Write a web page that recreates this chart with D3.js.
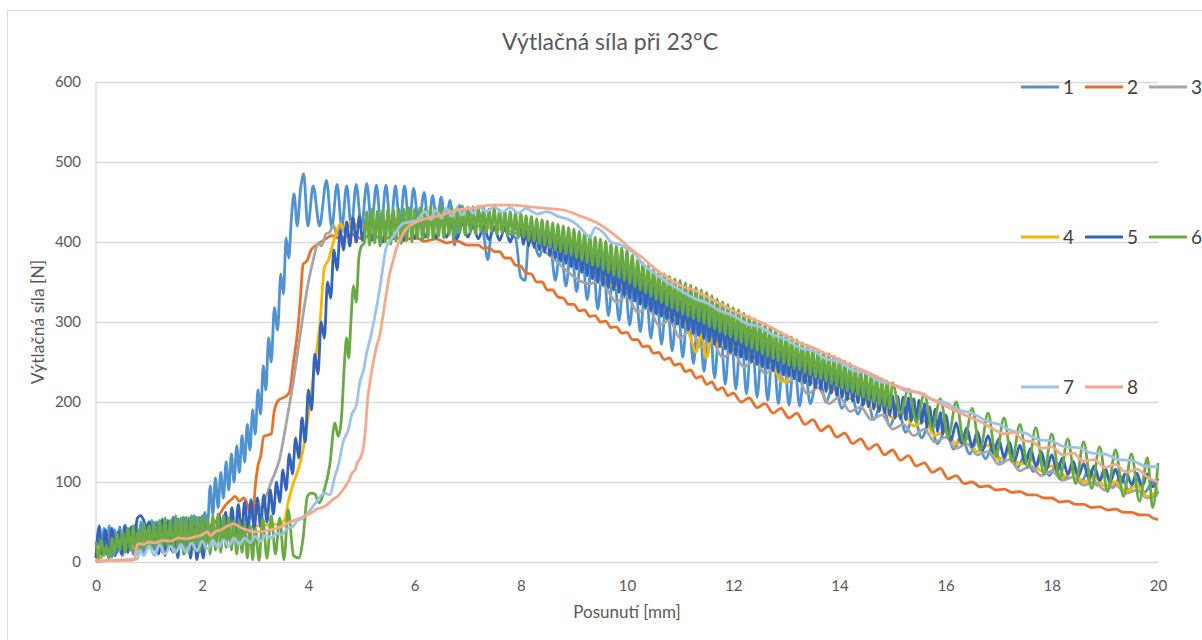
<!DOCTYPE html>
<html>
<head>
<meta charset="utf-8">
<script src="https://cdn.jsdelivr.net/npm/d3@7"></script>
<style>
body { margin: 0; background: #fff; }
svg { display: block; font-family: Lato, "Open Sans", sans-serif; }
</style>
</head>
<body>
<svg id="chart"></svg>
<script>
///////////////////// DATA /////////////////////////
let x_ticks = [0, 2, 4, 6, 8, 10, 12, 14, 16, 18, 20];
let y_ticks = [0, 100, 200, 300, 400, 500, 600];
let series_names = ["1", "2", "3", "4", "5", "6", "7", "8"];
let series_colors = ["#4f93d3", "#e8722c", "#a5a5a5", "#f5b800", "#3363bb", "#6aaa42", "#9dc3e8", "#f5a98a"];

// [posunuti mm, sila N]
let s1 = [[0,8],[0.05,38],[0.1,5],[0.15,42],[0.2,10],[0.25,45],[0.3,6],[0.35,40],[0.4,12],[0.45,44],[0.5,8],[0.55,46],[0.6,14],[0.65,42],[0.7,10],[0.75,48],[0.8,16],[0.85,50],[0.9,12],[0.95,46],[1.0,18],[1.05,52],[1.1,15],[1.15,50],[1.2,20],[1.25,54],[1.3,18],[1.35,52],[1.4,22],[1.45,56],[1.5,20],[1.55,54],[1.6,24],[1.65,56],[1.7,22],[1.75,55],[1.8,26],[1.85,58],[1.9,28],[1.95,56],[2.0,30],[2.05,62],
 [2.1,45],[2.15,95],[2.2,60],[2.25,105],[2.3,68],[2.35,112],[2.4,80],[2.45,125],[2.5,90],[2.55,135],[2.6,100],[2.65,145],[2.7,112],[2.75,158],[2.8,125],[2.85,172],[2.9,140],[2.95,190],[3.0,160],[3.05,215],[3.1,185],[3.15,245],[3.2,215],[3.25,280],[3.3,250],[3.36,318],[3.42,290],[3.48,360],[3.53,335],[3.58,405],[3.63,380],[3.68,430],[3.73,460],[3.79,420],[3.85,465],[3.91,485],
 [3.99,420],[4.09,470],[4.21,420],[4.34,477],[4.44,418],[4.54,472],[4.63,418],[4.72,470],[4.81,418],[4.9,472],[5.0,418],[5.1,473],[5.19,420],[5.28,471],[5.37,418],[5.46,471],[5.55,418],[5.64,470],[5.72,418],[5.81,470],[5.9,420],[5.98,467],[6.08,420],[6.18,462],[6.26,420],[6.34,458],[6.42,420],[6.5,456],[6.58,422],[6.67,452],[6.75,396],[6.85,446],[6.94,422],[7.03,442],[7.12,425],[7.22,436],
 [7.3,410],[7.38,378],[7.45,412],[7.6,418],[7.75,412],[7.9,405],[8.0,356],[8.08,352],[8.15,402],[8.25,398],[8.35,382],[8.45,400],
 [8.55,398],[8.65,352],[8.75,397],[8.85,345],[8.95,395],[9.05,338],[9.15,392],[9.25,328],[9.35,386],[9.45,316],[9.55,380],[9.65,308],[9.75,372],[9.85,302],[9.95,364],[10.05,296],[10.15,356],[10.25,288],[10.35,350],[10.45,280],[10.55,344],[10.65,272],[10.75,338],[10.85,264],[10.95,332],[11.05,256],[11.15,326],[11.25,248],[11.35,320],[11.45,238],[11.55,314],[11.65,230],[11.75,308],[11.85,222],[11.95,302],[12.05,216],[12.15,296],[12.25,210],[12.35,290],[12.45,206],[12.55,284],[12.65,202],[12.75,276],[12.85,198],[12.95,266],[13.05,196],[13.15,256],[13.25,195],[13.35,244],[13.45,198],
 [13.6,236],[13.75,200],[13.9,226],[14.05,192],[14.2,218],[14.35,185],[14.5,210],[14.65,178],[14.8,202],[14.95,170],[15.1,192],[15.25,162],[15.4,182],[15.55,155],[15.7,175],[15.85,148],[16.0,166],[16.15,141],[16.3,158],[16.45,135],[16.6,152],[16.75,129],[16.9,146],[17.05,123],[17.2,140],[17.35,118],[17.5,134],[17.65,113],[17.8,129],[17.95,108],[18.1,124],[18.25,104],[18.4,119],[18.55,100],[18.7,115],[18.85,96],[19.0,111],[19.15,93],[19.3,107],[19.45,90],[19.6,104],[19.75,87],[19.9,100],[20,85]];

let s2 = [[0,2],[0.1,8],[0.18,28],[0.25,32],[0.35,28],[0.45,33],[0.55,26],[0.65,30],[0.75,36],[0.9,34],[1.05,38],[1.2,36],[1.35,40],[1.5,38],[1.65,42],[1.8,40],[1.95,45],[2.1,44],[2.25,50],[2.35,62],[2.45,72],[2.55,78],[2.62,82],[2.7,76],[2.78,80],[2.85,72],[2.92,55],[2.96,60],[3.0,95],[3.05,120],[3.1,132],[3.16,157],[3.3,160],[3.36,190],[3.45,203],[3.55,206],[3.64,212],[3.72,250],[3.8,290],[3.85,330],[3.9,372],[3.98,377],[4.05,390],[4.15,396],[4.28,402],[4.45,408],[4.6,404],[4.8,410],[5.0,404],[5.2,409],[5.4,403],[5.6,407],[5.8,402],[6.0,406],[6.2,401],[6.4,404],[6.6,399],[6.8,401],[7.0,396],
 [7.2,396],[7.3,392],[7.4,393],[7.5,388],[7.6,388],[7.7,380],[7.8,380],[7.9,371],[8.0,370],[8.1,361],[8.2,360],[8.3,350],[8.4,350],[8.5,340],[8.6,340],[8.7,331],[8.8,330],[8.9,322],[9.0,322],[9.1,314],[9.2,315],[9.3,307],[9.4,308],[9.5,300],[9.6,301],[9.7,293],[9.8,294],[9.9,286],[10.0,287],[10.1,278],[10.2,278],[10.3,269],[10.4,270],[10.5,261],[10.6,262],[10.7,253],[10.8,255],[10.9,246],[11.0,248],[11.1,238],[11.2,240],[11.3,230],[11.4,232],[11.5,222],[11.6,225],[11.7,215],[11.8,218],[11.9,208],[12.0,211],[12.15,200],[12.3,205],[12.45,193],[12.6,198],[12.75,186],[12.9,192],[13.05,180],[13.2,186],[13.35,172],[13.5,178],[13.65,164],[13.8,170],[13.95,156],[14.1,161],[14.25,148],[14.4,154],[14.55,141],[14.7,147],[14.85,134],[15.0,140],[15.15,127],[15.3,133],[15.45,120],[15.6,124],[15.75,112],[15.9,117],[16.05,104],[16.2,108],[16.35,98],[16.5,100],[16.65,94],[16.8,95],[16.95,90],[17.1,91],[17.25,87],[17.4,88],[17.55,84],[17.7,84],[17.85,80],[18.0,80],[18.15,75],[18.3,76],[18.45,72],[18.6,72],[18.75,68],[18.9,69],[19.05,65],[19.2,66],[19.35,62],[19.5,62],[19.65,59],[19.8,59],[19.9,55],[20,53]];

let s3 = [[0,0],[0.15,12],[0.3,18],[0.5,22],[0.7,20],[0.9,26],[1.1,25],[1.3,30],[1.5,28],[1.7,33],[1.9,32],[2.1,38],[2.3,40],[2.5,46],[2.7,50],[2.9,55],[3.05,62],[3.18,78],[3.3,100],[3.45,127],[3.6,180],[3.75,240],[3.88,300],[4.0,350],[4.1,380],[4.18,398],[4.25,395],[4.33,410],[4.4,412],[4.47,421],[4.53,410],[4.6,420],[4.68,412],[4.8,422],[5.0,418],[5.3,425],[5.6,420],[6.0,428],[6.4,422],[6.8,426],[7.2,420],[7.6,416],[8.0,408],[8.3,395],[8.6,380],[8.9,362],[9.1,352],[9.3,348],[9.45,350],
 [9.6,343],[9.8,325],[10.0,332],[10.2,312],[10.4,318],[10.6,296],[10.8,302],[11.0,280],[11.2,290],[11.4,268],[11.6,276],[11.8,256],[12.0,262],[12.2,244],[12.4,252],[12.6,236],[12.8,242],[13.0,224],[13.2,232],[13.4,210],[13.6,218],[13.8,198],[14.0,206],[14.2,188],[14.4,194],[14.6,178],[14.8,184],[15.0,166],[15.2,172],[15.4,158],[15.6,166],[15.8,150],[16.0,156],[16.2,142],[16.4,148],[16.6,134],[16.8,138],[17.0,122],[17.2,128],[17.4,114],[17.6,120],[17.8,108],[18.0,114],[18.2,102],[18.4,106],[18.6,96],[18.8,100],[19.0,90],[19.2,96],[19.4,86],[19.6,90],[19.8,80],[20,84]];

let s4 = [[0,0],[0.2,15],[0.45,22],[0.7,18],[0.85,28],[1.1,26],[1.4,30],[1.7,28],[2.0,34],[2.3,36],[2.6,40],[2.9,44],[3.2,46],[3.45,48],[3.55,52],[3.62,75],[3.7,95],[3.78,110],[3.86,128],[3.95,160],[4.05,210],[4.15,262],[4.22,300],[4.3,368],[4.38,378],[4.45,395],[4.52,410],[4.6,423],[4.7,415],[4.8,425],[5.0,418],[5.2,428],[5.4,420],[5.6,430],[5.8,422],[6.0,430],[6.3,424],[6.6,430],[6.9,422],[7.2,426],[7.5,418],[7.8,420],[8.1,410],[8.4,404],[8.7,390],[9.0,385],[9.3,372],[9.55,362],[9.65,350],[9.75,344],[9.85,343],[9.95,348],[10.05,356],[10.15,345],[10.3,340],[10.5,325],[10.7,318],[10.9,305],[11.1,298],[11.2,280],[11.3,262],[11.4,284],[11.5,255],[11.6,280],[11.75,270],[11.9,282],[12.05,266],[12.2,276],[12.35,258],[12.5,266],[12.65,250],[12.8,240],[12.9,226],[13.0,226],[13.1,242],[13.25,236],[13.4,230],[13.55,222],[13.7,228],[13.85,214],[14.0,222],[14.2,204],[14.4,210],[14.6,192],[14.8,198],[15.0,180],[15.2,186],[15.4,170],[15.6,176],[15.8,158],[16.0,164],[16.2,148],[16.4,155],[16.6,138],[16.8,146],[17.0,128],[17.2,137],[17.4,122],[17.6,128],[17.8,114],[18.0,120],[18.2,106],[18.4,113],[18.6,100],[18.8,106],[19.0,95],[19.2,100],[19.4,88],[19.6,96],[19.8,82],[20,90]];

let s5 = [[0,5],[0.06,45],[0.12,10],[0.18,40],[0.24,5],[0.3,42],[0.36,8],[0.42,38],[0.48,10],[0.54,45],[0.6,12],[0.66,44],[0.72,30],[0.78,55],[0.84,58],[0.9,52],[0.95,42],[1.0,50],[1.06,20],[1.12,48],[1.18,10],[1.24,52],[1.3,8],[1.36,50],[1.42,15],[1.48,55],[1.54,5],[1.6,50],[1.66,10],[1.72,52],[1.78,5],[1.84,45],[1.9,3],[1.96,40],[2.02,5],[2.08,48],[2.14,20],[2.2,52],[2.26,25],[2.32,58],[2.38,28],[2.44,62],[2.5,30],[2.56,68],[2.62,32],[2.68,72],[2.74,35],[2.8,75],[2.86,38],[2.92,78],[2.98,40],[3.04,80],[3.1,44],[3.16,84],[3.22,50],[3.28,90],[3.34,60],[3.4,100],[3.46,75],[3.52,115],[3.58,90],[3.64,135],[3.7,110],[3.76,155],[3.82,130],[3.88,180],[3.94,150],[4.0,215],[4.06,190],[4.12,260],[4.18,235],[4.24,300],[4.3,280],[4.36,350],[4.42,330],[4.48,390],[4.54,365],[4.6,415],[4.66,390],[4.72,425],[4.78,395],[4.84,430],[4.9,400],[4.96,432],[5.02,402],
 [5.1,430],[5.2,402],[5.3,428],[5.4,400],[5.5,430],[5.6,404],[5.7,428],[5.8,402],[5.9,426],[6.0,404],[6.1,428],[6.2,406],[6.3,425],[6.4,405],[6.5,424],[6.6,406],[6.7,422],[6.8,404],[6.9,424],[7.0,406],[7.1,420],[7.2,404],[7.3,420],[7.4,403],[7.5,419],[7.6,402],[7.7,418],[7.8,400],[7.9,418],
 [8.0,416],[8.05,397],[8.1,415],[8.15,395],[8.2,414],[8.25,393],[8.3,413],[8.35,390],[8.4,412],[8.45,387],[8.5,410],[8.55,383],[8.6,408],[8.65,380],[8.7,406],[8.75,376],[8.8,404],[8.85,373],[8.9,402],[8.95,369],[9.0,400],[9.05,366],[9.1,397],[9.15,362],[9.2,394],[9.25,358],[9.3,392],[9.35,354],[9.4,389],[9.45,350],[9.5,386],[9.55,346],[9.6,382],[9.65,343],[9.7,379],[9.75,340],[9.8,375],[9.85,337],[9.9,372],[9.95,333],[10.0,368],[10.05,330],[10.1,363],[10.15,326],[10.2,358],[10.25,322],[10.3,353],[10.35,318],[10.4,349],[10.45,314],[10.5,344],[10.55,310],[10.6,340],[10.65,307],[10.7,337],[10.75,304],[10.8,333],[10.85,300],[10.9,330],[10.95,297],[11.0,326],[11.05,293],[11.1,323],[11.15,290],[11.2,320],[11.25,286],[11.3,318],[11.35,283],[11.4,315],[11.45,279],[11.5,312],[11.55,276],[11.6,309],[11.65,272],[11.7,306],[11.75,269],[11.8,302],[11.85,266],[11.9,299],[11.95,262],[12.0,296],[12.05,259],[12.1,293],[12.15,256],[12.2,290],[12.25,253],[12.3,288],[12.35,250],[12.4,285],[12.45,247],[12.5,282],[12.55,244],[12.6,278],[12.65,242],[12.7,275],[12.75,239],[12.8,271],[12.85,237],[12.9,268],[12.95,234],[13.0,264],[13.05,232],[13.1,261],[13.15,229],[13.2,258],[13.25,226],[13.3,256],[13.35,224],[13.4,253],[13.45,221],[13.5,250],[13.55,218],[13.6,247],[13.65,216],[13.7,244],[13.75,213],[13.8,242],[13.85,211],[13.9,239],[13.95,208],[14.0,236],[14.05,206],[14.1,233],[14.15,203],[14.2,230],[14.25,201],[14.3,228],[14.35,199],[14.4,225],[14.45,196],[14.5,222],[14.55,194],[14.6,219],[14.65,191],[14.7,216],[14.75,188],[14.8,214],[14.85,186],[14.9,211],[14.95,183],[15.0,208],[15.05,180],[15.1,207],[15.15,179],[15.2,206],[15.25,178],[15.3,205],[15.35,177],[15.4,204],[15.45,175],[15.5,202],[15.55,173],[15.6,198],[15.65,169],[15.7,194],[15.75,166],[15.8,191],[15.85,163],[15.9,187],[15.95,160],[16.0,184],
 [16.1,152],[16.2,174],[16.3,148],[16.4,168],[16.5,144],[16.6,163],[16.7,140],[16.8,158],[16.9,136],[17.0,154],[17.1,131],[17.2,150],[17.3,127],[17.4,146],[17.5,123],[17.6,142],[17.7,120],[17.8,138],[17.9,116],[18.0,134],[18.1,113],[18.2,130],[18.3,110],[18.4,126],[18.5,107],[18.6,123],[18.7,104],[18.8,120],[18.9,102],[19.0,118],[19.1,100],[19.2,116],[19.3,98],[19.4,113],[19.5,97],[19.6,111],[19.7,95],[19.8,110],[19.9,94],[20,104]];

let s6 = [[0,25],[0.05,5],[0.1,28],[0.15,8],[0.2,20],[0.25,5],[0.3,30],[0.35,10],[0.4,35],[0.45,15],[0.5,38],[0.55,12],[0.6,42],[0.65,15],[0.7,45],[0.75,10],[0.8,40],[0.85,12],[0.9,48],[0.95,15],[1.0,45],[1.05,18],[1.1,50],[1.15,15],[1.2,52],[1.25,12],[1.3,55],[1.35,18],[1.4,52],[1.45,12],[1.5,58],[1.55,15],[1.6,55],[1.65,10],[1.7,56],[1.75,12],[1.8,58],[1.85,15],[1.9,56],[1.95,12],[2.0,58],[2.05,15],[2.1,55],[2.15,10],[2.2,58],[2.25,15],[2.3,60],[2.35,12],[2.4,58],[2.45,18],[2.5,55],[2.55,15],[2.6,52],[2.65,10],[2.7,50],[2.75,12],[2.8,48],[2.85,5],[2.9,45],[2.95,3],[3.0,42],[3.07,2],[3.14,55],[3.22,5],[3.3,58],[3.38,10],[3.46,55],[3.54,3],[3.62,65],[3.72,8],[3.82,5],[3.9,30],[3.98,82],[4.05,86],[4.12,85],[4.2,74],[4.3,90],[4.4,120],[4.5,174],[4.56,157],[4.62,178],[4.68,250],[4.72,280],[4.76,255],[4.8,300],[4.85,345],[4.9,325],[4.95,380],[5.0,395],
 [5.05,398],[5.1,438],[5.15,396],[5.2,441],[5.25,399],[5.3,439],[5.35,395],[5.4,440],[5.45,400],[5.5,442],[5.55,397],[5.6,440],[5.65,401],[5.7,442],[5.75,398],[5.8,441],[5.85,402],[5.9,443],[5.95,400],[6.0,441],[6.05,404],[6.1,443],[6.15,401],[6.2,442],[6.25,405],[6.3,444],[6.35,403],[6.4,442],[6.45,407],[6.5,444],[6.55,405],[6.6,442],[6.65,409],[6.7,444],[6.75,407],[6.8,443],[6.85,411],[6.9,445],[6.95,409],[7.0,443],[7.05,412],[7.1,444],[7.15,410],[7.2,442],[7.25,413],[7.3,443],[7.35,411],[7.4,441],[7.45,413],[7.5,442],[7.55,410],[7.6,440],[7.65,411],[7.7,439],[7.75,408],[7.8,438],[7.85,409],[7.9,437],[7.95,405],[8.0,436],[8.05,406],[8.1,433],[8.15,402],[8.2,432],[8.25,401],[8.3,429],[8.35,398],[8.4,428],[8.45,396],[8.5,426],[8.55,393],[8.6,424],[8.65,390],[8.7,422],[8.75,388],[8.8,420],[8.85,385],[8.9,418],[8.95,383],[9.0,416],[9.05,380],[9.1,413],[9.15,377],[9.2,411],[9.25,374],[9.3,408],[9.35,371],[9.4,406],[9.45,369],[9.5,404],[9.55,365],[9.6,401],[9.65,362],[9.7,398],[9.75,358],[9.8,395],[9.85,355],[9.9,393],[9.95,352],[10.0,390],[10.05,348],[10.1,384],[10.15,344],[10.2,378],[10.25,340],[10.3,374],[10.35,336],[10.4,370],[10.45,332],[10.5,366],[10.55,328],[10.6,363],[10.65,324],[10.7,360],[10.75,320],[10.8,357],[10.85,317],[10.9,354],[10.95,314],[11.0,352],[11.05,310],[11.1,349],[11.15,307],[11.2,346],[11.25,304],[11.3,343],[11.35,301],[11.4,340],[11.45,298],[11.5,337],[11.55,294],[11.6,333],[11.65,291],[11.7,329],[11.75,287],[11.8,325],[11.85,284],[11.9,322],[11.95,281],[12.0,318],[12.05,277],[12.1,315],[12.15,274],[12.2,311],[12.25,270],[12.3,307],[12.35,267],[12.4,304],[12.45,264],[12.5,300],[12.55,260],[12.6,297],[12.65,257],[12.7,294],[12.75,254],[12.8,290],[12.85,251],[12.9,287],[12.95,248],[13.0,284],[13.05,245],[13.1,281],[13.15,242],[13.2,278],[13.25,240],[13.3,274],[13.35,237],[13.4,271],[13.45,234],[13.5,268],[13.55,231],[13.6,265],[13.65,229],[13.7,262],[13.75,226],[13.8,260],[13.85,223],[13.9,257],[13.95,220],[14.0,254],[14.05,217],[14.1,251],[14.15,214],[14.2,248],[14.25,212],[14.3,244],[14.35,209],[14.4,241],[14.45,206],[14.5,238],[14.55,203],[14.6,235],[14.65,200],[14.7,232],[14.75,197],[14.8,229],[14.85,195],[14.9,226],[14.95,192],[15.0,224],
 [15.15,186],[15.3,216],[15.45,175],[15.6,210],[15.75,166],[15.9,204],[16.05,156],[16.2,200],[16.35,148],[16.5,192],[16.65,140],[16.8,186],[16.95,132],[17.1,180],[17.25,126],[17.4,172],[17.55,118],[17.7,168],[17.85,110],[18.0,160],[18.15,104],[18.3,154],[18.45,98],[18.6,150],[18.75,92],[18.9,144],[19.05,88],[19.2,140],[19.35,82],[19.5,135],[19.65,76],[19.8,130],[19.9,68],[20,124]];

let s7 = [[0,0],[0.3,2],[0.6,3],[0.78,4],[0.82,15],[0.9,8],[1.0,20],[1.1,8],[1.2,22],[1.3,10],[1.4,20],[1.5,12],[1.6,22],[1.7,12],[1.8,24],[1.9,14],[2.0,26],[2.1,16],[2.2,27],[2.3,18],[2.4,28],[2.5,20],[2.6,30],[2.7,22],[2.8,30],[2.9,24],[3.0,32],[3.1,26],[3.2,34],[3.3,30],[3.4,36],[3.5,34],[3.6,42],[3.7,44],[3.8,52],[3.9,55],[4.0,62],[4.15,75],[4.3,86],[4.4,84],[4.5,107],[4.58,125],[4.65,149],[4.75,165],[4.82,185],[4.9,195],[4.97,225],[5.04,240],[5.1,262],[5.16,278],[5.26,310],[5.35,344],[5.47,394],[5.6,407],[5.78,423],[6.04,427],[6.2,438],[6.3,428],[6.4,440],[6.5,430],[6.6,442],[6.7,432],[6.8,442],[6.9,434],[7.0,444],[7.1,436],[7.2,445],[7.35,438],[7.5,444],[7.65,437],[7.8,443],[7.95,436],[8.1,442],[8.3,435],[8.5,438],[8.7,432],[8.9,428],[9.05,422],[9.2,412],[9.3,406],[9.4,418],[9.55,412],[9.7,400],[9.85,397],[10.0,392],[10.15,385],[10.3,372],
 [10.5,362],[10.75,350],[11.0,340],[11.25,330],[11.5,324],[11.75,314],[12.0,308],[12.25,298],[12.5,294],[12.75,284],[13.0,278],[13.25,268],[13.5,264],[13.75,254],[14.0,250],[14.25,240],[14.5,236],[14.75,226],[15.0,222],[15.25,214],[15.5,212],[15.75,203],[16.0,199],[16.25,190],[16.5,186],[16.75,177],[17.0,172],[17.25,164],[17.5,161],[17.75,153],[18.0,151],[18.25,144],[18.5,143],[18.75,136],[19.0,135],[19.25,128],[19.5,127],[19.75,120],[20,119]];

let s8 = [[0,1],[0.3,2],[0.6,2],[0.72,3],[0.76,18],[0.8,23],[0.9,22],[1.0,25],[1.1,24],[1.27,27],[1.4,26],[1.55,30],[1.7,29],[1.9,32],[2.0,34],[2.1,38],[2.15,33],[2.25,38],[2.35,40],[2.45,44],[2.52,46],[2.6,48],[2.68,45],[2.76,42],[2.85,40],[2.95,38],[3.1,38],[3.25,40],[3.4,42],[3.48,44],[3.6,48],[3.73,52],[3.88,56],[4.04,61],[4.15,66],[4.29,69],[4.38,73],[4.46,78],[4.55,82],[4.65,90],[4.75,100],[4.83,112],[4.88,115],[4.92,124],[4.98,130],[5.04,145],[5.08,170],[5.11,199],[5.16,225],[5.22,249],[5.28,268],[5.35,285],[5.41,310],[5.47,336],[5.53,360],[5.6,377],[5.66,392],[5.72,402],[5.85,417],[6.04,425],[6.25,430],[6.48,433],[6.8,440],[7.1,442],[7.42,446],[7.86,446],[8.17,444],[8.5,442],[8.8,440],[9.1,433],[9.43,424],[9.8,407],[10.06,392],[10.3,380],[10.5,368],[10.75,356],[11.0,346],[11.25,340],[11.5,332],[11.75,323],[12.0,314],[12.25,307],[12.5,300],[12.75,292],[13.0,283],[13.25,274],[13.5,268],[13.75,260],[14.0,253],[14.25,245],[14.5,238],[14.75,230],[15.0,222],[15.25,216],[15.5,211],[15.75,203],[16.0,195],[16.25,187],[16.5,180],[16.65,176],[16.8,170],[16.95,164],[17.1,160],[17.3,162],[17.45,152],[17.65,150],[17.8,142],[18.0,144],[18.2,134],[18.4,136],[18.6,126],[18.8,128],[19.0,118],[19.2,122],[19.4,112],[19.6,116],[19.8,106],[20,100]];

let all_series = [s1, s2, s3, s4, s5, s6, s7, s8];

///////////////////// CHART /////////////////////////
let W = 1202, H = 640;
let margin = {top: 82, right: 44, bottom: 78, left: 96},
    width = W - margin.left - margin.right,
    height = H - margin.top - margin.bottom;
let text_color = "#595959";
let font = "Lato, 'Open Sans', sans-serif";

var svg = d3.select("#chart")
    .attr("width", W)
    .attr("height", H);

svg.append("rect")
    .attr("width", W).attr("height", H)
    .attr("fill", "#fff");

// chart frame
svg.append("rect")
    .attr("x", 7.5).attr("y", 10.5)
    .attr("width", W).attr("height", H)
    .attr("fill", "none")
    .attr("stroke", "#d9dee4");

var g = svg.append("g")
    .attr("transform", "translate(" + margin.left + "," + margin.top + ")");

let x_scale = d3.scaleLinear().domain([0, 20]).range([0, width]);
let y_scale = d3.scaleLinear().domain([0, 600]).range([height, 0]);

// gridlines
g.append("g")
    .call(d3.axisLeft(y_scale).tickValues(y_ticks).tickSize(-width).tickFormat(""))
    .call(a => a.select(".domain").remove())
    .selectAll("line")
    .attr("stroke", "#d9d9d9")
    .attr("stroke-width", 1.3);

// vertical axis line
g.append("line")
    .attr("x1", 0).attr("x2", 0)
    .attr("y1", 0).attr("y2", height)
    .attr("stroke", "#d9d9d9")
    .attr("stroke-width", 1.3);

// tick labels
let style_axis = a => {
    a.select(".domain").remove();
    a.attr("font-family", null).attr("font-size", null);
    a.selectAll("text")
	.style("font-family", font)
	.style("font-size", "15px")
	.attr("fill", text_color);
};

g.append("g")
    .call(d3.axisLeft(y_scale).tickValues(y_ticks).tickSize(0).tickPadding(15))
    .call(style_axis);

g.append("g")
    .attr("transform", "translate(0," + height + ")")
    .call(d3.axisBottom(x_scale).tickValues(x_ticks).tickSize(0).tickPadding(18))
    .call(style_axis);

// series
let line = d3.line()
    .x(d => x_scale(d[0]))
    .y(d => y_scale(d[1]))
    .curve(d3.curveMonotoneX);

g.selectAll(".series")
    .data(all_series)
    .enter()
    .append("path")
    .attr("class", "series")
    .attr("d", line)
    .attr("fill", "none")
    .attr("stroke", (d, i) => series_colors[i])
    .attr("stroke-width", 2.8)
    .attr("stroke-linejoin", "round");

// titles
svg.append("text")
    .attr("x", 610).attr("y", 50)
    .attr("text-anchor", "middle")
    .style("font-family", font)
    .style("font-size", "23px")
    .attr("fill", text_color)
    .text("Výtlačná síla při 23°C");

svg.append("text")
    .attr("x", 627).attr("y", 618)
    .attr("text-anchor", "middle")
    .style("font-family", font)
    .style("font-size", "17px")
    .attr("fill", text_color)
    .text("Posunutí [mm]");

svg.append("text")
    .attr("transform", "translate(44,322) rotate(-90)")
    .attr("text-anchor", "middle")
    .style("font-family", font)
    .style("font-size", "17.5px")
    .attr("fill", text_color)
    .text("Výtlačná síla [N]");

// legend, 3 per row
let legend = svg.append("g");
let legend_item = legend.selectAll("g")
    .data(series_names)
    .enter()
    .append("g")
    .attr("transform", (d, i) => "translate(" + (1021 + (i % 3) * 64) + "," + (87 + Math.floor(i / 3) * 150) + ")");

legend_item.append("line")
    .attr("x1", 0).attr("x2", 38)
    .attr("stroke", (d, i) => series_colors[i])
    .attr("stroke-width", 3);

legend_item.append("text")
    .attr("x", 42).attr("dy", "0.36em")
    .style("font-family", font)
    .style("font-size", "19px")
    .attr("fill", "#404040")
    .text(d => d);
</script>
</body>
</html>
